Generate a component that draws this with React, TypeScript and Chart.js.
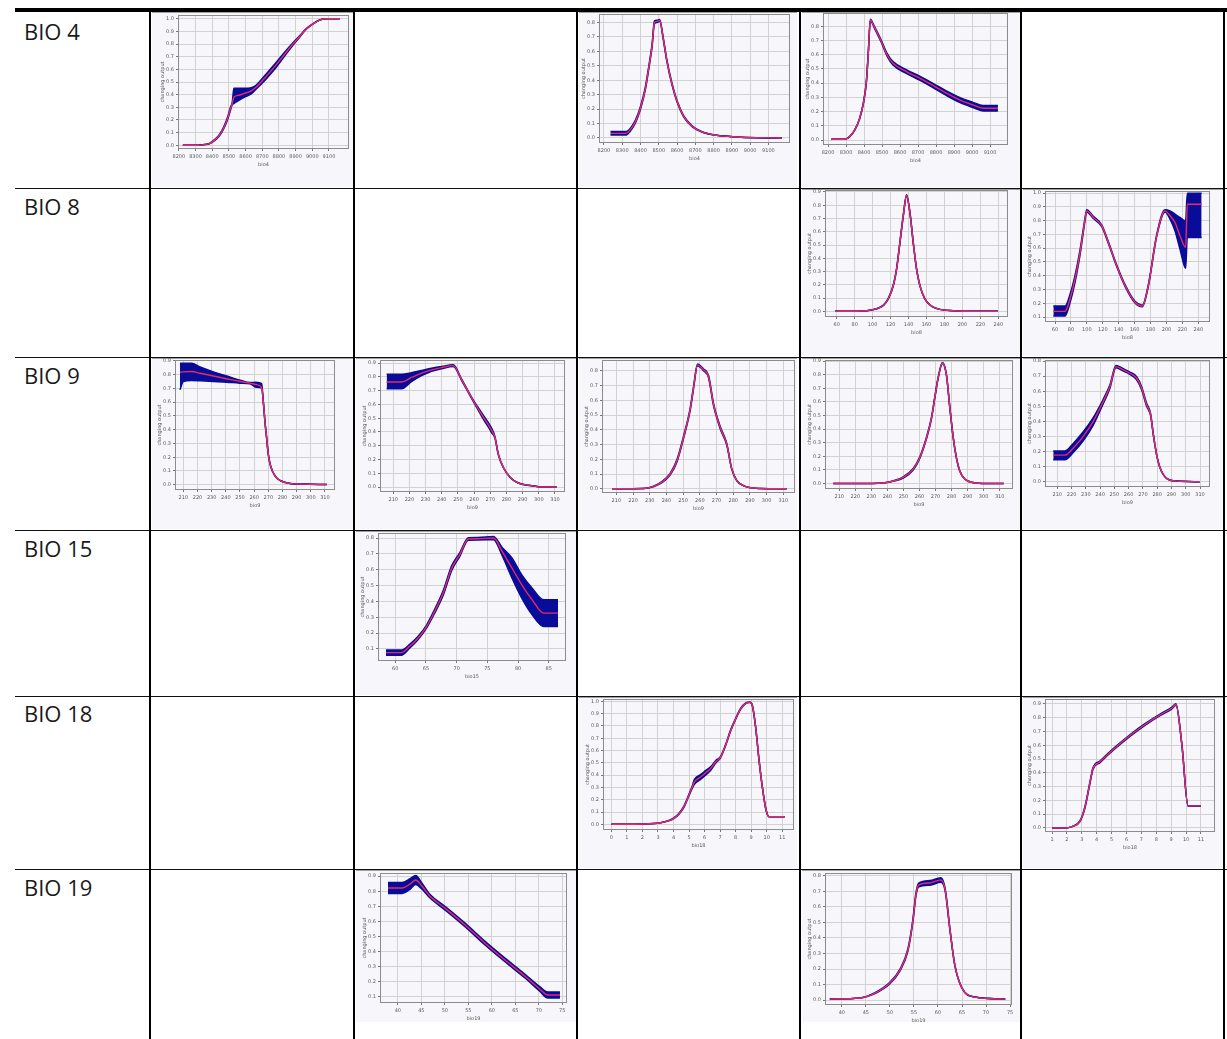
import React, { useEffect, useRef } from "react";
import { Chart, registerables } from "chart.js";

Chart.register(...registerables);

// ---------------- text ----------------
const rowLabels = ["BIO 4", "BIO 8", "BIO 9", "BIO 15", "BIO 18", "BIO 19"];
const yAxisTitle = "changing output";

// ---------------- tick labels ----------------
const xTicksBio4 = [8200, 8300, 8400, 8500, 8600, 8700, 8800, 8900, 9000, 9100];
const xTicksBio8 = [60, 80, 100, 120, 140, 160, 180, 200, 220, 240];
const xTicksBio9 = [210, 220, 230, 240, 250, 260, 270, 280, 290, 300, 310];
const xTicksBio15 = [60, 65, 70, 75, 80, 85];
const xTicksBio18a = [0, 1, 2, 3, 4, 5, 6, 7, 8, 9, 10, 11];
const xTicksBio18b = [1, 2, 3, 4, 5, 6, 7, 8, 9, 10, 11];
const xTicksBio19 = [40, 45, 50, 55, 60, 65, 70, 75];
const yTicks0to10 = [0, 0.1, 0.2, 0.3, 0.4, 0.5, 0.6, 0.7, 0.8, 0.9, 1.0];
const yTicks0to9 = [0, 0.1, 0.2, 0.3, 0.4, 0.5, 0.6, 0.7, 0.8, 0.9];
const yTicks0to8 = [0, 0.1, 0.2, 0.3, 0.4, 0.5, 0.6, 0.7, 0.8];
const yTicks1to10 = [0.1, 0.2, 0.3, 0.4, 0.5, 0.6, 0.7, 0.8, 0.9, 1.0];
const yTicks1to9 = [0.1, 0.2, 0.3, 0.4, 0.5, 0.6, 0.7, 0.8, 0.9];
const yTicks1to8 = [0.1, 0.2, 0.3, 0.4, 0.5, 0.6, 0.7, 0.8];

// ---------------- series (x, mean response, band above, band below) ----------------
// BIO 4 - panel 1
const a_x = [8224, 8274, 8314, 8354, 8384, 8414, 8444, 8470, 8494, 8510, 8520, 8530, 8560, 8594, 8634, 8664, 8714, 8774, 8834, 8884, 8924, 8964, 9004, 9044, 9084, 9164];
const a_mean = [0, 0, 0, 0.005, 0.013, 0.04, 0.08, 0.14, 0.22, 0.29, 0.33, 0.38, 0.395, 0.41, 0.43, 0.46, 0.53, 0.62, 0.72, 0.8, 0.86, 0.92, 0.96, 0.99, 1.0, 1.0];
const a_up = [0, 0, 0, 0, 0.002, 0.004, 0.006, 0.008, 0.01, 0.012, 0.008, 0.07, 0.055, 0.04, 0.025, 0.015, 0.02, 0.02, 0.015, 0.01, 0.006, 0.003, 0, 0, 0, 0];
const a_dn = [0, 0, 0, 0, 0.002, 0.004, 0.006, 0.008, 0.01, 0.012, 0.008, 0.05, 0.04, 0.03, 0.025, 0.015, 0.02, 0.02, 0.015, 0.01, 0.006, 0.003, 0, 0, 0, 0];

// BIO 4 - panel 3
const b_x = [8236, 8318, 8345, 8373, 8400, 8427, 8445, 8464, 8476, 8491, 8505, 8524, 8545, 8573, 8600, 8636, 8682, 8736, 8818, 8927, 9036, 9173];
const b_mean = [0.032, 0.032, 0.058, 0.115, 0.208, 0.346, 0.485, 0.647, 0.8, 0.808, 0.815, 0.693, 0.531, 0.37, 0.254, 0.15, 0.081, 0.042, 0.018, 0.007, 0.002, 0];
const b_up = [0.012, 0.012, 0.01, 0.01, 0.01, 0.01, 0.01, 0.01, 0.01, 0.008, 0.006, 0.006, 0.006, 0.006, 0.005, 0.004, 0.003, 0.001, 0, 0, 0, 0];
const b_dn = [0.012, 0.012, 0.01, 0.01, 0.01, 0.01, 0.01, 0.01, 0.01, 0.008, 0.006, 0.006, 0.006, 0.006, 0.005, 0.004, 0.003, 0.001, 0, 0, 0, 0];

// BIO 4 - panel 4
const c_x = [8218, 8293, 8320, 8348, 8376, 8398, 8413, 8424, 8435, 8459, 8496, 8528, 8561, 8635, 8709, 8783, 8857, 8931, 9005, 9061, 9144];
const c_mean = [0.005, 0.005, 0.024, 0.07, 0.153, 0.27, 0.41, 0.62, 0.845, 0.79, 0.694, 0.6, 0.54, 0.482, 0.435, 0.384, 0.33, 0.282, 0.247, 0.224, 0.224];
const c_up = [0, 0, 0, 0.002, 0.003, 0.004, 0.004, 0.004, 0.005, 0.006, 0.008, 0.01, 0.012, 0.013, 0.014, 0.015, 0.016, 0.017, 0.018, 0.019, 0.019];
const c_dn = [0, 0, 0, 0.002, 0.003, 0.004, 0.004, 0.004, 0.005, 0.006, 0.008, 0.01, 0.012, 0.013, 0.014, 0.015, 0.016, 0.017, 0.018, 0.019, 0.019];

// BIO 8 - panel 4
const d_x = [58.1, 93.3, 104.4, 111.9, 117.4, 123, 126.7, 130.4, 134.1, 137.8, 141.5, 145.2, 148.9, 152.6, 158.1, 165.6, 174.8, 189.6, 211.9, 239.6];
const d_mean = [0, 0.005, 0.02, 0.045, 0.095, 0.195, 0.32, 0.52, 0.72, 0.875, 0.745, 0.52, 0.32, 0.195, 0.095, 0.04, 0.015, 0.005, 0, 0];
const d_up = [0, 0, 0, 0.002, 0.003, 0.004, 0.005, 0.005, 0.005, 0.006, 0.005, 0.005, 0.004, 0.003, 0.002, 0, 0, 0, 0, 0];
const d_dn = [0, 0, 0, 0.002, 0.003, 0.004, 0.005, 0.005, 0.005, 0.006, 0.005, 0.005, 0.004, 0.003, 0.002, 0, 0, 0, 0, 0];

// BIO 8 - panel 5
const e_x = [57.9, 72.6, 78.8, 85.1, 91.4, 97.7, 99.7, 108.1, 118.6, 126.9, 137.4, 147.9, 160.4, 169.6, 177.2, 187.6, 198.1, 204.4, 210.6, 216.9, 224.0, 226.1, 244.1];
const e_mean = [0.141, 0.141, 0.233, 0.377, 0.57, 0.81, 0.871, 0.823, 0.763, 0.642, 0.473, 0.329, 0.208, 0.18, 0.329, 0.69, 0.871, 0.835, 0.787, 0.69, 0.606, 0.919, 0.919];
const e_up = [0.039, 0.039, 0.03, 0.025, 0.018, 0.01, 0.008, 0.008, 0.006, 0.006, 0.006, 0.006, 0.006, 0.006, 0.006, 0.006, 0.008, 0.036, 0.06, 0.133, 0.193, 0.08, 0.08];
const e_dn = [0.034, 0.034, 0.03, 0.025, 0.018, 0.01, 0.008, 0.008, 0.006, 0.006, 0.006, 0.006, 0.006, 0.006, 0.006, 0.006, 0.008, 0.024, 0.06, 0.096, 0.152, 0.241, 0.241];

// BIO 9 - panel 1
const f_x = [207.6, 210, 215.9, 221.8, 231.2, 240.6, 250, 257.1, 261.3, 265.3, 266.5, 267.6, 268.8, 270, 271.6, 274.7, 278.7, 285.3, 294.7, 311.2];
const f_mean = [0.817, 0.82, 0.822, 0.81, 0.79, 0.77, 0.75, 0.738, 0.728, 0.705, 0.6, 0.462, 0.341, 0.221, 0.137, 0.065, 0.029, 0.01, 0.005, 0.002];
const f_up = [0.065, 0.062, 0.06, 0.045, 0.03, 0.02, 0.01, 0.004, 0.017, 0.03, 0.003, 0.003, 0.003, 0.003, 0.002, 0, 0, 0, 0, 0];
const f_dn = [0.127, 0.07, 0.065, 0.055, 0.04, 0.025, 0.012, 0.004, 0.02, 0.003, 0.003, 0.003, 0.003, 0.003, 0.002, 0, 0, 0, 0, 0];

// BIO 9 - panel 2
const g_x = [205.9, 215.2, 221.3, 227.5, 233.7, 239.9, 247.1, 252.3, 258.5, 264.6, 270.8, 272.9, 274.9, 278, 282.2, 287.3, 295.6, 301.8, 311];
const g_mean = [0.763, 0.763, 0.796, 0.827, 0.851, 0.868, 0.882, 0.779, 0.647, 0.528, 0.412, 0.36, 0.24, 0.144, 0.072, 0.029, 0.01, 0, 0];
const g_up = [0.057, 0.057, 0.035, 0.02, 0.012, 0.008, 0.006, 0.005, 0.005, 0.012, 0.016, 0.006, 0.003, 0, 0, 0, 0, 0, 0];
const g_dn = [0.048, 0.048, 0.03, 0.018, 0.01, 0.008, 0.006, 0.005, 0.005, 0.012, 0.016, 0.006, 0.003, 0, 0, 0, 0, 0, 0];

// BIO 9 - panel 3
const h_x = [207.4, 226.3, 232.3, 237.3, 242.3, 246.3, 250.2, 254.2, 256.2, 258.6, 262.2, 265.2, 268.2, 272.2, 276.1, 279.1, 282.1, 287.1, 296.1, 312];
const h_mean = [0, 0.002, 0.016, 0.045, 0.1, 0.19, 0.347, 0.538, 0.684, 0.841, 0.807, 0.762, 0.572, 0.415, 0.303, 0.135, 0.056, 0.016, 0.002, 0];
const h_up = [0, 0, 0.002, 0.004, 0.006, 0.008, 0.008, 0.008, 0.008, 0.006, 0.006, 0.008, 0.008, 0.008, 0.006, 0.002, 0, 0, 0, 0];
const h_dn = [0, 0, 0.002, 0.004, 0.006, 0.008, 0.008, 0.008, 0.008, 0.006, 0.006, 0.008, 0.008, 0.008, 0.006, 0.002, 0, 0, 0, 0];

// BIO 9 - panel 4
const i_x = [206.3, 227, 239.5, 245.7, 249.8, 256.1, 260.2, 264.4, 267.5, 269.5, 271.6, 274.3, 276.8, 278.9, 281, 283, 285.1, 288.2, 293.4, 301.7, 312.5];
const i_mean = [0, 0, 0.007, 0.024, 0.044, 0.105, 0.19, 0.336, 0.482, 0.628, 0.774, 0.886, 0.798, 0.56, 0.34, 0.19, 0.092, 0.032, 0.007, 0, 0];
const i_up = [0, 0, 0, 0.003, 0.005, 0.006, 0.006, 0.006, 0.005, 0.005, 0.004, 0.004, 0.004, 0.003, 0.003, 0.002, 0.001, 0, 0, 0, 0];
const i_dn = [0, 0, 0, 0.003, 0.005, 0.006, 0.006, 0.006, 0.005, 0.005, 0.004, 0.004, 0.004, 0.003, 0.003, 0.002, 0.001, 0, 0, 0, 0];

// BIO 9 - panel 5
const j_x = [207.2, 215.4, 221.2, 228.2, 235.2, 242.2, 246.9, 251.1, 256.3, 260.9, 265.6, 269.1, 272.6, 275.4, 277.3, 279.6, 282, 286.6, 293.6, 310];
const j_mean = [0.176, 0.176, 0.224, 0.301, 0.4, 0.532, 0.631, 0.763, 0.741, 0.719, 0.686, 0.62, 0.51, 0.444, 0.312, 0.18, 0.092, 0.022, 0.004, 0];
const j_up = [0.028, 0.028, 0.03, 0.03, 0.025, 0.015, 0.012, 0.008, 0.008, 0.008, 0.01, 0.01, 0.01, 0.008, 0.002, 0, 0, 0, 0, 0];
const j_dn = [0.03, 0.03, 0.03, 0.03, 0.025, 0.015, 0.012, 0.008, 0.008, 0.008, 0.01, 0.01, 0.01, 0.008, 0.002, 0, 0, 0, 0, 0];

// BIO 15 - panel 2
const k_x = [58.5, 61, 62.3, 63.7, 65.1, 66.4, 67.8, 69.2, 70.5, 71.9, 73.5, 76, 77.4, 79, 80.6, 82.3, 84.2, 86.5];
const k_mean = [0.077, 0.077, 0.115, 0.168, 0.241, 0.336, 0.452, 0.611, 0.695, 0.794, 0.796, 0.8, 0.716, 0.611, 0.505, 0.41, 0.326, 0.326];
const k_up = [0.016, 0.016, 0.012, 0.01, 0.01, 0.012, 0.015, 0.015, 0.012, 0.008, 0.008, 0.01, 0.025, 0.063, 0.063, 0.074, 0.084, 0.084];
const k_dn = [0.016, 0.016, 0.012, 0.01, 0.01, 0.012, 0.015, 0.015, 0.012, 0.008, 0.008, 0.01, 0.025, 0.063, 0.084, 0.095, 0.084, 0.084];

// BIO 18 - panel 3
const l_x = [0, 2.09, 3.16, 3.7, 4.02, 4.34, 4.67, 4.99, 5.2, 5.35, 5.74, 6.06, 6.39, 6.71, 7.03, 7.35, 7.68, 8, 8.32, 8.65, 8.92, 9.08, 9.29, 9.51, 9.72, 9.94, 10.15, 11.16];
const l_mean = [0, 0.003, 0.013, 0.03, 0.049, 0.084, 0.143, 0.237, 0.3, 0.345, 0.385, 0.418, 0.453, 0.507, 0.547, 0.642, 0.763, 0.857, 0.938, 0.984, 0.992, 0.965, 0.79, 0.52, 0.305, 0.129, 0.062, 0.062];
const l_up = [0, 0, 0, 0.002, 0.003, 0.004, 0.005, 0.006, 0.01, 0.02, 0.02, 0.018, 0.015, 0.01, 0.006, 0.005, 0.005, 0.004, 0.004, 0.003, 0.002, 0.001, 0, 0, 0, 0, 0, 0];
const l_dn = [0, 0, 0, 0.002, 0.003, 0.004, 0.005, 0.006, 0.01, 0.02, 0.02, 0.018, 0.015, 0.01, 0.006, 0.005, 0.005, 0.004, 0.004, 0.003, 0.002, 0.001, 0, 0, 0, 0, 0, 0];

// BIO 18 - panel 5
const m_x = [1, 1.87, 2.34, 2.88, 3.21, 3.55, 3.75, 4.22, 5.23, 6.23, 7.24, 8.25, 9.05, 9.32, 9.72, 10.13, 11];
const m_mean = [0, 0, 0.01, 0.05, 0.15, 0.33, 0.43, 0.48, 0.58, 0.67, 0.75, 0.82, 0.87, 0.895, 0.6, 0.16, 0.16];
const m_up = [0, 0, 0, 0.003, 0.005, 0.006, 0.006, 0.006, 0.006, 0.006, 0.006, 0.006, 0.006, 0.006, 0.002, 0, 0];
const m_dn = [0, 0, 0, 0.003, 0.005, 0.006, 0.006, 0.006, 0.006, 0.006, 0.006, 0.006, 0.006, 0.006, 0.002, 0, 0];

// BIO 19 - panel 2
const n_x = [37.9, 40.9, 42.6, 43.8, 45.1, 46.8, 50, 54.3, 58.5, 62.8, 67, 70.2, 71.9, 74.5];
const n_mean = [0.822, 0.822, 0.848, 0.875, 0.835, 0.769, 0.689, 0.577, 0.458, 0.345, 0.239, 0.153, 0.113, 0.113];
const n_up = [0.036, 0.036, 0.035, 0.03, 0.02, 0.012, 0.012, 0.012, 0.012, 0.012, 0.012, 0.015, 0.02, 0.02];
const n_dn = [0.036, 0.036, 0.035, 0.03, 0.02, 0.012, 0.012, 0.012, 0.012, 0.012, 0.012, 0.015, 0.02, 0.02];

// BIO 19 - panel 4
const o_x = [37.5, 43.75, 46.9, 50, 52.1, 53.75, 54.8, 55.4, 56, 58.3, 60.6, 61.5, 62.5, 63.5, 65, 67.7, 74];
const o_mean = [0.006, 0.013, 0.045, 0.11, 0.194, 0.323, 0.516, 0.677, 0.742, 0.755, 0.774, 0.71, 0.452, 0.226, 0.077, 0.019, 0.006];
const o_up = [0, 0, 0.003, 0.005, 0.006, 0.008, 0.008, 0.01, 0.012, 0.015, 0.015, 0.008, 0.005, 0.003, 0, 0, 0];
const o_dn = [0, 0, 0.003, 0.005, 0.006, 0.008, 0.008, 0.01, 0.012, 0.015, 0.015, 0.008, 0.005, 0.003, 0, 0, 0];

// ---------------- layout / styling ----------------
type PanelSpec = {
  key: string;
  img: number[]; // x, y, w, h of the picture background
  plot: number[]; // left, top, right, bottom of the plot area
  xr: number[];
  yr: number[];
  x: number[];
  mean: number[];
  up: number[];
  dn: number[];
  xTicks: number[];
  yTicks: number[];
  xTitle: string;
};

const panels: PanelSpec[] = [
  { key: "a", img: [152, 12, 202, 175], plot: [178, 15, 349, 149], xr: [8195, 9220], yr: [-0.03, 1.03], x: a_x, mean: a_mean, up: a_up, dn: a_dn, xTicks: xTicksBio4, yTicks: yTicks0to10, xTitle: "bio4" },
  { key: "b", img: [579, 12, 218, 175], plot: [599, 14, 790, 143], xr: [8173, 9218], yr: [-0.035, 0.859], x: b_x, mean: b_mean, up: b_up, dn: b_dn, xTicks: xTicksBio4, yTicks: yTicks0to8, xTitle: "bio4" },
  { key: "c", img: [802, 12, 219, 175], plot: [823, 13, 1008, 145], xr: [8172, 9200], yr: [-0.035, 0.894], x: c_x, mean: c_mean, up: c_up, dn: c_dn, xTicks: xTicksBio4, yTicks: yTicks0to8, xTitle: "bio4" },
  { key: "d", img: [802, 189, 219, 167], plot: [825, 190, 1008, 317], xr: [47, 250.7], yr: [-0.0425, 0.915], x: d_x, mean: d_mean, up: d_up, dn: d_dn, xTicks: xTicksBio8, yTicks: yTicks0to9, xTitle: "bio8" },
  { key: "e", img: [1023, 189, 200, 167], plot: [1045, 191, 1210, 322], xr: [47.4, 254.6], yr: [0.064, 1.015], x: e_x, mean: e_mean, up: e_up, dn: e_dn, xTicks: xTicksBio8, yTicks: yTicks1to10, xTitle: "bio8" },
  { key: "f", img: [152, 358, 202, 171], plot: [175, 360, 335, 490], xr: [204.1, 317.1], yr: [-0.038, 0.906], x: f_x, mean: f_mean, up: f_up, dn: f_dn, xTicks: xTicksBio9, yTicks: yTicks0to9, xTitle: "bio9" },
  { key: "g", img: [356, 358, 220, 171], plot: [380, 360, 565, 492], xr: [201.8, 316.2], yr: [-0.036, 0.923], x: g_x, mean: g_mean, up: g_up, dn: g_dn, xTicks: xTicksBio9, yTicks: yTicks0to9, xTitle: "bio9" },
  { key: "h", img: [579, 358, 218, 171], plot: [602, 360, 795, 493], xr: [201.4, 317], yr: [-0.029, 0.874], x: h_x, mean: h_mean, up: h_up, dn: h_dn, xTicks: xTicksBio9, yTicks: yTicks0to8, xTitle: "bio9" },
  { key: "i", img: [802, 358, 219, 171], plot: [825, 360, 1013, 489], xr: [201.1, 318.3], yr: [-0.041, 0.908], x: i_x, mean: i_mean, up: i_up, dn: i_dn, xTicks: xTicksBio9, yTicks: yTicks0to9, xTitle: "bio9" },
  { key: "j", img: [1023, 358, 200, 171], plot: [1045, 360, 1210, 487], xr: [201.4, 317], yr: [-0.035, 0.807], x: j_x, mean: j_mean, up: j_up, dn: j_dn, xTicks: xTicksBio9, yTicks: yTicks0to8, xTitle: "bio9" },
  { key: "k", img: [356, 531, 220, 164], plot: [378, 533, 566, 661], xr: [57.2, 87.8], yr: [0.024, 0.832], x: k_x, mean: k_mean, up: k_up, dn: k_dn, xTicks: xTicksBio15, yTicks: yTicks1to8, xTitle: "bio15" },
  { key: "l", img: [579, 697, 218, 171], plot: [603, 699, 794, 830], xr: [-0.54, 11.76], yr: [-0.046, 1.019], x: l_x, mean: l_mean, up: l_up, dn: l_dn, xTicks: xTicksBio18a, yTicks: yTicks0to10, xTitle: "bio18" },
  { key: "m", img: [1023, 697, 200, 171], plot: [1045, 699, 1215, 832], xr: [0.53, 11.94], yr: [-0.029, 0.935], x: m_x, mean: m_mean, up: m_up, dn: m_dn, xTicks: xTicksBio18b, yTicks: yTicks0to9, xTitle: "bio18" },
  { key: "n", img: [356, 870, 220, 152], plot: [380, 873, 567, 1003], xr: [36.2, 76], yr: [0.06, 0.921], x: n_x, mean: n_mean, up: n_up, dn: n_dn, xTicks: xTicksBio19, yTicks: yTicks1to9, xTitle: "bio19" },
  { key: "o", img: [802, 870, 219, 152], plot: [825, 873, 1012, 1005], xr: [36.5, 75.4], yr: [-0.032, 0.819], x: o_x, mean: o_mean, up: o_up, dn: o_dn, xTicks: xTicksBio19, yTicks: yTicks0to8, xTitle: "bio19" },
];

const RED = "rgb(230,42,102)";
const BLUE = "rgb(8,12,152)";
const PANEL_BG = "#f7f7fb";
const Y_AXIS_W = 18;
const X_AXIS_H = 19;
const MARGIN = 10;

const framePlugin = {
  id: "frame",
  beforeDatasetsDraw(chart: any) {
    const { ctx, chartArea: a } = chart;
    ctx.save();
    ctx.strokeStyle = "#8c8c8c";
    ctx.lineWidth = 1;
    ctx.strokeRect(Math.round(a.left) + 0.5, Math.round(a.top) + 0.5, Math.round(a.width) - 1, Math.round(a.height) - 1);
    ctx.restore();
  },
};

function Panel({ p }: { p: PanelSpec }) {
  const ref = useRef<HTMLCanvasElement>(null);
  const [ix, iy, iw, ih] = p.img;
  const [pl, pt, pr, pb] = p.plot;
  const cx = ix - MARGIN;
  const cy = iy - MARGIN;
  const cw = iw + 2 * MARGIN;
  const ch = ih + 2 * MARGIN;

  useEffect(() => {
    if (!ref.current) return;
    const mid = p.x.map((x, i) => ({ x, y: p.mean[i] }));
    const upper = p.x.map((x, i) => ({ x, y: p.mean[i] + p.up[i] }));
    const lower = p.x.map((x, i) => ({ x, y: p.mean[i] - p.dn[i] }));
    const tickFont = { family: "DejaVu Sans", size: 5 };
    const lineCommon = { pointRadius: 0, cubicInterpolationMode: "monotone" };
    const chart = new Chart(ref.current, {
      type: "line",
      data: {
        datasets: [
          { ...lineCommon, data: mid, borderColor: RED, borderWidth: 1.4, fill: false },
          { ...lineCommon, data: upper, borderColor: BLUE, backgroundColor: BLUE, borderWidth: 1.5, fill: "+1" },
          { ...lineCommon, data: lower, borderColor: BLUE, borderWidth: 1.5, fill: false },
        ],
      },
      options: {
        animation: false,
        responsive: false,
        maintainAspectRatio: false,
        devicePixelRatio: 1,
        events: [],
        layout: {
          padding: {
            left: pl - Y_AXIS_W - cx,
            top: pt - cy,
            right: cx + cw - pr,
            bottom: cy + ch - pb - X_AXIS_H,
          },
        },
        plugins: { legend: { display: false }, tooltip: { enabled: false } },
        scales: {
          x: {
            type: "linear",
            min: p.xr[0],
            max: p.xr[1],
            afterFit: (s: any) => {
              s.height = X_AXIS_H;
            },
            afterBuildTicks: (s: any) => {
              s.ticks = p.xTicks.map((v) => ({ value: v }));
            },
            ticks: {
              autoSkip: false,
              maxRotation: 0,
              minRotation: 0,
              padding: 3,
              color: "#5a5a5a",
              font: tickFont,
              callback: (v: any) => String(v),
            },
            grid: { color: "#d2d2d2", lineWidth: 1, drawTicks: true, tickLength: 2, tickColor: "#777" },
            border: { display: false },
            title: { display: true, text: p.xTitle, color: "#5a5a5a", font: tickFont, padding: 0 },
          },
          y: {
            type: "linear",
            min: p.yr[0],
            max: p.yr[1],
            afterFit: (s: any) => {
              s.width = Y_AXIS_W;
            },
            afterBuildTicks: (s: any) => {
              s.ticks = p.yTicks.map((v) => ({ value: v }));
            },
            ticks: {
              autoSkip: false,
              padding: 2,
              color: "#5a5a5a",
              font: tickFont,
              callback: (v: any) => Number(v).toFixed(1),
            },
            grid: { color: "#d2d2d2", lineWidth: 1, drawTicks: true, tickLength: 2, tickColor: "#777" },
            border: { display: false },
            title: { display: true, text: yAxisTitle, color: "#5a5a5a", font: tickFont, padding: 0 },
          },
        },
      },
      plugins: [framePlugin],
    } as any);
    return () => chart.destroy();
  }, []);

  return (
    <canvas
      ref={ref}
      width={cw}
      height={ch}
      style={{ position: "absolute", left: cx, top: cy, width: cw, height: ch, display: "block" }}
    />
  );
}

const labelTops = [16, 191, 360, 533, 698, 872];
const rowLines = [188, 357, 530, 696, 869];
const colLines = [149, 353, 576, 799, 1020, 1223];

export default function App() {
  return (
    <div
      style={{
        position: "absolute",
        left: 0,
        top: 0,
        width: 1227,
        height: 1039,
        background: "#ffffff",
        overflow: "hidden",
        fontFamily: '"Open Sans", "Noto Sans", sans-serif',
      }}
    >
      {panels.map((p) => (
        <div
          key={"bg-" + p.key}
          style={{
            position: "absolute",
            left: p.img[0],
            top: p.img[1],
            width: p.img[2],
            height: p.img[3],
            background: PANEL_BG,
            borderTop: "1px solid #a0a0a0",
            boxSizing: "border-box",
          }}
        />
      ))}
      {panels.map((p) => (
        <Panel key={p.key} p={p} />
      ))}
      {rowLabels.map((t, i) => (
        <div
          key={t}
          style={{
            position: "absolute",
            left: 24,
            top: labelTops[i],
            fontSize: 22,
            lineHeight: "30px",
            color: "#1a1a1a",
            whiteSpace: "nowrap",
          }}
        >
          {t}
        </div>
      ))}
      <div style={{ position: "absolute", left: 15, top: 8, width: 1212, height: 4, background: "#000" }} />
      {rowLines.map((y) => (
        <div key={"r" + y} style={{ position: "absolute", left: 15, top: y, width: 1212, height: 1, background: "#111" }} />
      ))}
      {colLines.map((x) => (
        <div key={"c" + x} style={{ position: "absolute", left: x, top: 8, width: 2, height: 1031, background: "#000" }} />
      ))}
    </div>
  );
}
